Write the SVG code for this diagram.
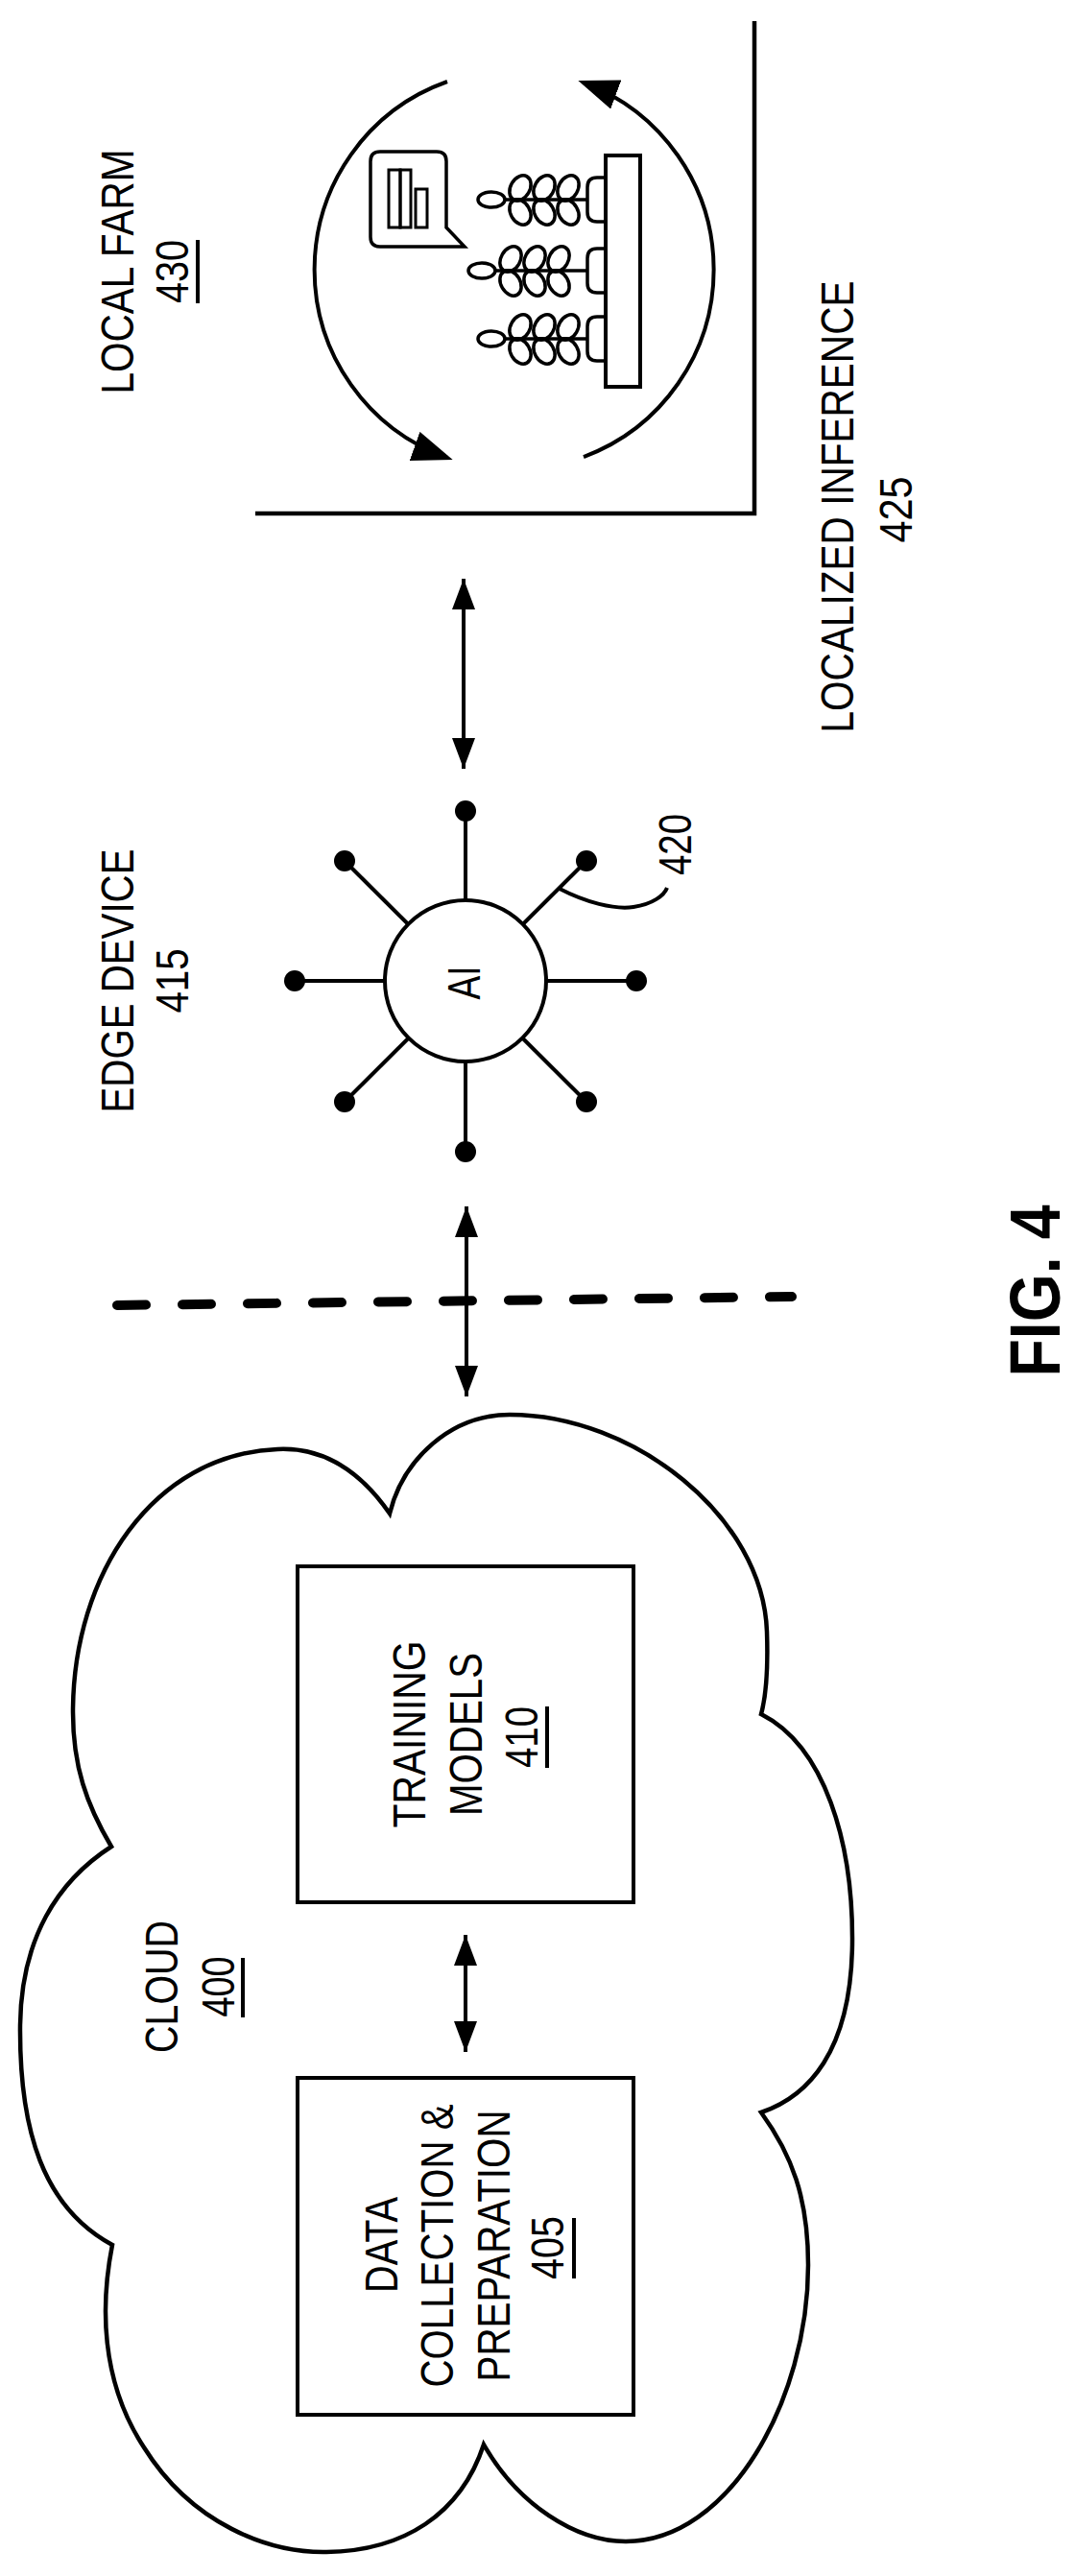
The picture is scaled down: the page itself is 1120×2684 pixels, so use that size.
<svg xmlns="http://www.w3.org/2000/svg" width="1120" height="2684" viewBox="0 0 1120 2684">
<style>
.t{font-family:"Liberation Sans",Arial,sans-serif;font-size:48px;fill:#000;text-anchor:middle}
.b{font-weight:bold;font-size:74px}
.s{fill:none;stroke:#000;stroke-width:4.5}
.f{fill:#fff;stroke:#000;stroke-width:4}
.d{fill:#000}
</style>
<defs>
<marker id="ah" markerUnits="userSpaceOnUse" markerWidth="32" markerHeight="24" refX="32" refY="12" orient="auto-start-reverse"><path d="M0,0 L32,12 L0,24 z" fill="#000"/></marker>
<marker id="ah2" markerUnits="userSpaceOnUse" markerWidth="42" markerHeight="32" refX="36" refY="16" orient="auto"><path d="M0,0 L42,16 L0,32 z" fill="#000"/></marker>
</defs>
<rect width="1120" height="2684" fill="#fff"/>

<g id="local-farm">
<path class="s" d="M786,22 V535 H266"/>
<text class="t" transform="translate(139,283) rotate(-90)" textLength="255" lengthAdjust="spacingAndGlyphs">LOCAL FARM</text>
<text class="t" transform="translate(196,283) rotate(-90)" textLength="66" lengthAdjust="spacingAndGlyphs">430</text>
<line x1="206" y1="250" x2="206" y2="316" stroke="#000" stroke-width="4"/>
<text class="t" transform="translate(889,528) rotate(-90)" textLength="471" lengthAdjust="spacingAndGlyphs">LOCALIZED INFERENCE</text>
<text class="t" transform="translate(950,531) rotate(-90)" textLength="69" lengthAdjust="spacingAndGlyphs">425</text>
<path d="M466,85 A208,208 0 0 0 466,477" fill="none" stroke="#000" stroke-width="4" marker-end="url(#ah2)"/>
<path d="M608,476 A208,208 0 0 0 608,86" fill="none" stroke="#000" stroke-width="4" marker-end="url(#ah2)"/>
<path d="M396,158 H455 Q465,158 465,168 V237 L484,257 H396 Q386,257 386,247 V168 Q386,158 396,158 Z" fill="#fff" stroke="#000" stroke-width="3.5"/>
<g fill="none" stroke="#000" stroke-width="3">
<rect x="405" y="177" width="12" height="60"/><rect x="417" y="177" width="11" height="60"/><rect x="433" y="197" width="12" height="40"/>
</g>
<rect x="631" y="162" width="36" height="241" fill="#fff" stroke="#000" stroke-width="4"/>
<g id="plant1" fill="none" stroke="#000" stroke-width="3.5">
<path d="M631,185 H622 Q612,185 612,195 V221 Q612,231 622,231 H631"/>
<line x1="527" y1="208" x2="612" y2="208"/>
<ellipse cx="512" cy="208" rx="14" ry="8"/>
<ellipse cx="542" cy="196" rx="10" ry="14" transform="rotate(30 542 196)"/>
<ellipse cx="567" cy="196" rx="10" ry="14" transform="rotate(30 567 196)"/>
<ellipse cx="592" cy="196" rx="10" ry="14" transform="rotate(30 592 196)"/>
<ellipse cx="542" cy="221" rx="10" ry="14" transform="rotate(-30 542 221)"/>
<ellipse cx="567" cy="221" rx="10" ry="14" transform="rotate(-30 567 221)"/>
<ellipse cx="592" cy="221" rx="10" ry="14" transform="rotate(-30 592 221)"/>
</g>
<g id="plant2" fill="none" stroke="#000" stroke-width="3.5">
<path d="M631,259 H622 Q612,259 612,269 V295 Q612,305 622,305 H631"/>
<line x1="517" y1="282" x2="612" y2="282"/>
<ellipse cx="502" cy="282" rx="14" ry="8"/>
<ellipse cx="532" cy="270" rx="10" ry="14" transform="rotate(30 532 270)"/>
<ellipse cx="557" cy="270" rx="10" ry="14" transform="rotate(30 557 270)"/>
<ellipse cx="582" cy="270" rx="10" ry="14" transform="rotate(30 582 270)"/>
<ellipse cx="532" cy="295" rx="10" ry="14" transform="rotate(-30 532 295)"/>
<ellipse cx="557" cy="295" rx="10" ry="14" transform="rotate(-30 557 295)"/>
<ellipse cx="582" cy="295" rx="10" ry="14" transform="rotate(-30 582 295)"/>
</g>
<g id="plant3" fill="none" stroke="#000" stroke-width="3.5">
<path d="M631,330 H622 Q612,330 612,340 V366 Q612,376 622,376 H631"/>
<line x1="527" y1="353" x2="612" y2="353"/>
<ellipse cx="512" cy="353" rx="14" ry="8"/>
<ellipse cx="542" cy="341" rx="10" ry="14" transform="rotate(30 542 341)"/>
<ellipse cx="567" cy="341" rx="10" ry="14" transform="rotate(30 567 341)"/>
<ellipse cx="592" cy="341" rx="10" ry="14" transform="rotate(30 592 341)"/>
<ellipse cx="542" cy="366" rx="10" ry="14" transform="rotate(-30 542 366)"/>
<ellipse cx="567" cy="366" rx="10" ry="14" transform="rotate(-30 567 366)"/>
<ellipse cx="592" cy="366" rx="10" ry="14" transform="rotate(-30 592 366)"/>
</g>
</g>

<g id="edge-device">
<text class="t" transform="translate(139,1022) rotate(-90)" textLength="275" lengthAdjust="spacingAndGlyphs">EDGE DEVICE</text>
<text class="t" transform="translate(196,1022) rotate(-90)" textLength="67" lengthAdjust="spacingAndGlyphs">415</text>
<g stroke="#000" stroke-width="4">
<line x1="485" y1="845" x2="485" y2="1200"/>
<line x1="307" y1="1022" x2="663" y2="1022"/>
<line x1="359" y1="897" x2="611" y2="1148"/>
<line x1="611" y1="897" x2="359" y2="1148"/>
</g>
<g class="d">
<circle cx="485" cy="845" r="11"/><circle cx="485" cy="1200" r="11"/>
<circle cx="307" cy="1022" r="11"/><circle cx="663" cy="1022" r="11"/>
<circle cx="359" cy="897" r="11"/><circle cx="611" cy="897" r="11"/>
<circle cx="359" cy="1148" r="11"/><circle cx="611" cy="1148" r="11"/>
</g>
<circle class="f" cx="485" cy="1022" r="84"/>
<text class="t" transform="translate(500,1024) rotate(-90)" textLength="35" lengthAdjust="spacingAndGlyphs">AI</text>
<path d="M583,926 C610,940 640,948 660,945 C680,942 692,933 695,925" fill="none" stroke="#000" stroke-width="4"/>
<text class="t" transform="translate(720,880) rotate(-90)" textLength="64" lengthAdjust="spacingAndGlyphs">420</text>
</g>

<line id="boundary" x1="122" y1="1360" x2="825" y2="1351" stroke="#000" stroke-width="10" stroke-linecap="round" stroke-dasharray="30 38"/>

<g id="cloud">
<path class="s" d="M406,1577 C370,1525 330,1508 289,1510 C160,1515 76,1640 76,1784 C76,1840 90,1880 116,1924 C60,1960 22,2020 21,2110 C20,2220 45,2300 117,2339 C105,2400 104,2480 150,2550 C200,2630 280,2660 340,2659 C420,2658 480,2620 504,2547 C540,2610 600,2648 652,2648 C760,2648 842,2500 842,2360 C842,2290 825,2245 793,2201 C840,2185 888,2140 888,2020 C888,1920 860,1820 793,1786 C800,1760 800,1729 799,1700 C795,1580 660,1474 531,1474 C470,1474 420,1520 406,1577 Z"/>
<text class="t" transform="translate(185,2070) rotate(-90)" textLength="138" lengthAdjust="spacingAndGlyphs">CLOUD</text>
<text class="t" transform="translate(244,2070) rotate(-90)" textLength="63" lengthAdjust="spacingAndGlyphs">400</text>
<line x1="253" y1="2040" x2="253" y2="2102" stroke="#000" stroke-width="4"/>
</g>

<g id="training-models">
<rect class="f" x="310" y="1632" width="350" height="350"/>
<text class="t" transform="translate(443,1807) rotate(-90)" textLength="195" lengthAdjust="spacingAndGlyphs">TRAINING</text>
<text class="t" transform="translate(502,1807) rotate(-90)" textLength="170" lengthAdjust="spacingAndGlyphs">MODELS</text>
<text class="t" transform="translate(560,1810) rotate(-90)" textLength="64" lengthAdjust="spacingAndGlyphs">410</text>
<line x1="570" y1="1778" x2="570" y2="1842" stroke="#000" stroke-width="4"/>
</g>

<g id="data-collection">
<rect class="f" x="310" y="2165" width="350" height="351"/>
<text class="t" transform="translate(414,2339) rotate(-90)" textLength="100" lengthAdjust="spacingAndGlyphs">DATA</text>
<text class="t" transform="translate(472,2340) rotate(-90)" textLength="295" lengthAdjust="spacingAndGlyphs">COLLECTION &amp;</text>
<text class="t" transform="translate(531,2340) rotate(-90)" textLength="283" lengthAdjust="spacingAndGlyphs">PREPARATION</text>
<text class="t" transform="translate(587,2342) rotate(-90)" textLength="66" lengthAdjust="spacingAndGlyphs">405</text>
<line x1="598" y1="2311" x2="598" y2="2374" stroke="#000" stroke-width="4"/>
</g>

<g id="connectors" stroke="#000" stroke-width="4">
<line x1="483" y1="603" x2="483" y2="801" marker-start="url(#ah)" marker-end="url(#ah)"/>
<line x1="486" y1="1257" x2="486" y2="1455" marker-start="url(#ah)" marker-end="url(#ah)"/>
<line x1="485" y1="2016" x2="485" y2="2138" marker-start="url(#ah)" marker-end="url(#ah)"/>
</g>

<text class="t b" transform="translate(1104,1345) rotate(-90)" textLength="179" lengthAdjust="spacingAndGlyphs">FIG. 4</text>
</svg>
